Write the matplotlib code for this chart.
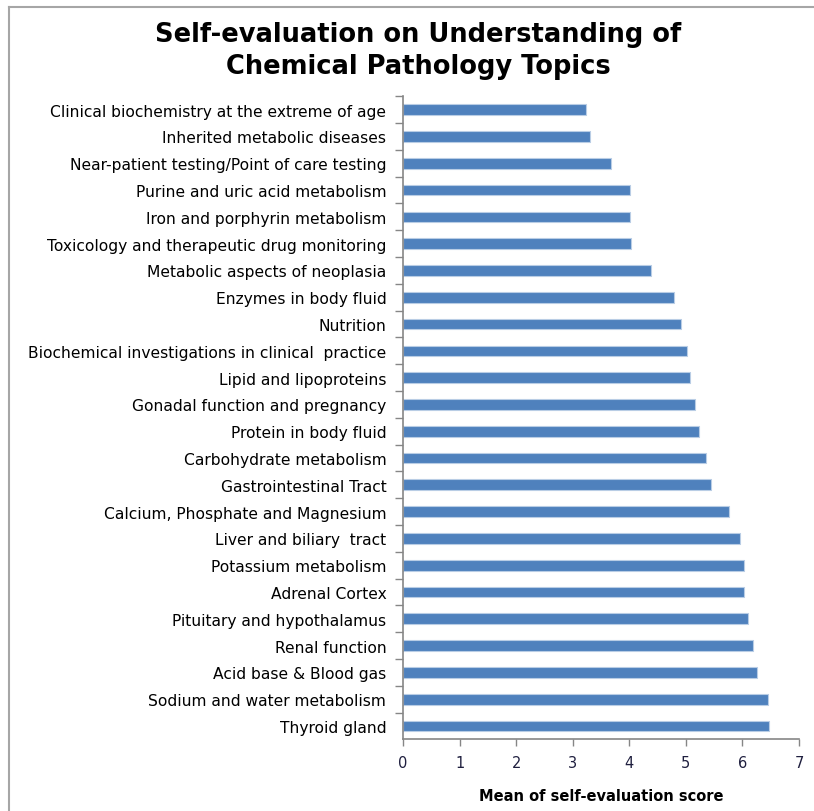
import matplotlib
matplotlib.use("Agg")
import matplotlib.pyplot as plt
from matplotlib.lines import Line2D

# topics from top to bottom as shown in the chart
topics = [
    "Clinical biochemistry at the extreme of age",
    "Inherited metabolic diseases",
    "Near-patient testing/Point of care testing",
    "Purine and uric acid metabolism",
    "Iron and porphyrin metabolism",
    "Toxicology and therapeutic drug monitoring",
    "Metabolic aspects of neoplasia",
    "Enzymes in body fluid",
    "Nutrition",
    "Biochemical investigations in clinical  practice",
    "Lipid and lipoproteins",
    "Gonadal function and pregnancy",
    "Protein in body fluid",
    "Carbohydrate metabolism",
    "Gastrointestinal Tract",
    "Calcium, Phosphate and Magnesium",
    "Liver and biliary  tract",
    "Potassium metabolism",
    "Adrenal Cortex",
    "Pituitary and hypothalamus",
    "Renal function",
    "Acid base & Blood gas",
    "Sodium and water metabolism",
    "Thyroid gland",
]
scores = [3.23, 3.30, 3.68, 4.01, 4.01, 4.03, 4.38, 4.79, 4.91, 5.02, 5.07, 5.17,
          5.24, 5.36, 5.45, 5.76, 5.95, 6.02, 6.02, 6.09, 6.19, 6.25, 6.45, 6.47]
xticks = [0, 1, 2, 3, 4, 5, 6, 7]

fig = plt.figure(figsize=(8.14, 8.12), dpi=100)
ax = fig.add_axes([403/814, 1 - 740.4/812, 396/814, (740.4 - 97.3)/812])

pos = list(range(len(topics)))
ax.barh(pos, scores, height=0.4, color="#4F81BD", edgecolor="#B9CDE5", linewidth=0.8)
ax.set_ylim(len(topics) - 0.5, -0.5)
ax.set_xlim(0, 7)
ax.set_xticks(xticks)
ax.set_xticklabels([str(t) for t in xticks], fontsize=10.5, color="#1F1F3F")

# category ticks sit between the bars
ax.set_yticks([p + 0.5 for p in pos[:-1]] + [-0.5], minor=False)
ax.set_yticklabels([])
ax.set_yticks(pos, minor=True)
ax.set_yticklabels(topics, minor=True, fontsize=11.2)
ax.tick_params(axis="y", which="minor", length=0, pad=12)
ax.tick_params(axis="y", which="major", length=6, color="#868686", width=1)
ax.tick_params(axis="x", length=5, color="#868686", width=1, pad=6)

for s in ["top", "right"]:
    ax.spines[s].set_visible(False)
for s in ["left", "bottom"]:
    ax.spines[s].set_color("#868686")
    ax.spines[s].set_linewidth(1.2)

ax.set_xlabel("Mean of self-evaluation score", fontsize=10.5, fontweight="bold", labelpad=13)

fig.text(418/814, 1 - 51/812, "Self-evaluation on Understanding of\nChemical Pathology Topics",
         ha="center", va="center", fontsize=18.5, fontweight="bold", linespacing=1.25)

# chart area border (only left and top visible in the crop)
fig.add_artist(Line2D([8.5/814, 8.5/814], [0, 1 - 8/812], color="#A6A6A6", lw=1.5,
                      transform=fig.transFigure))
fig.add_artist(Line2D([8.5/814, 1], [1 - 8/812, 1 - 8/812], color="#A6A6A6", lw=1.5,
                      transform=fig.transFigure))

fig.savefig("out.png", dpi=100)
